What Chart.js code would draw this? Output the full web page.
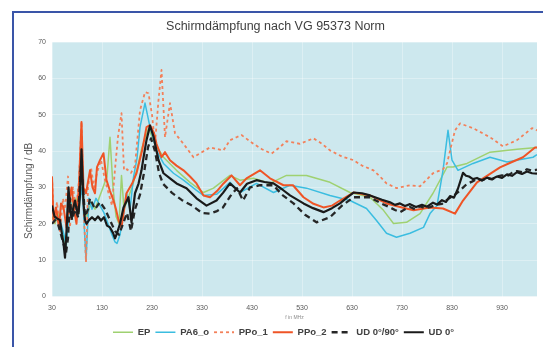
<!DOCTYPE html>
<html><head><meta charset="utf-8">
<script src="https://cdn.jsdelivr.net/npm/chart.js@4/dist/chart.umd.min.js"></script>
<style>
html,body{margin:0;padding:0;background:#fff;width:543px;height:347px;overflow:hidden}
#frame{position:absolute;left:12px;top:11px;width:560px;height:360px;border-top:2px solid #3a55a8;border-left:2px solid #3a55a8}
#wrap{position:absolute;left:0;top:0;width:543px;height:347px}
</style></head><body>
<div id="frame"></div>
<div id="wrap"><canvas id="c" width="543" height="347"></canvas></div>
<script>
// ---- data (frequency in MHz, shielding attenuation in dB) ----
const xTicks = [30,130,230,330,430,530,630,730,830,930];
const yTicks = [0,10,20,30,40,50,60,70];
const seriesNames = ['EP','PA6_o','PPo_1','PPo_2','UD 0°/90°','UD 0°'];

const epFreq = [30,36,42,48,54,58,62,66,72,78,84,90,94,100,108,116,124,132,140,146,152,158,164,169,174,182,190,200,210,223,236,253,279,306,333,353,386,406,433,466,499,539,586,626,666,693,713,739,766,792,820,832,860,906,960,1000];
const epVals = [22,20,23,19,16,13,20,28,22,27,23,38,24,22,26,24,27,30,33,43.8,30,22,20,33.3,24,27,30,35,41,46.3,42,38.3,34.7,31.4,28.6,29.8,33.3,32,32.5,31.1,33.3,33.3,31.4,28.6,27.3,23.7,20.1,20.4,22.8,28.4,35.6,35.6,36.6,39.7,40.5,41];

const paFreq = [30,36,42,48,54,58,62,66,72,78,84,88,92,98,104,110,118,126,134,142,150,156,160,166,172,179,186,193,200,206,216,226,239,253,273,293,319,333,359,386,406,439,473,506,539,586,626,659,679,699,719,746,773,786,800,812,822,830,842,872,906,940,992,1000];
const paVals = [25,21,22,20,17,14,19,27,22,26,24,30,26,10,27,24,27,25,23,20,17,15,14.6,17,22,28.4,24,32.8,38,46.6,53.2,46.6,40.2,36.6,33.9,32,29.2,27.8,28.1,31.4,28.6,31.1,28.6,30.6,29.8,27.8,26.4,24.2,20.9,17.4,16.3,17.4,19,22.8,25,34.7,45.7,37.5,34.7,36.6,38.3,37,38.3,39];

const p1Freq = [30,34,40,46,52,56,62,66,72,78,84,89,93,98,102,108,114,120,128,136,144,150,156,162,169,174,180,188,196,206,216,223,230,236,243,249,256,266,276,293,313,326,346,373,386,399,409,433,450,469,485,499,526,553,570,586,610,633,650,673,686,699,719,746,766,792,812,820,836,846,872,906,932,960,990,1000];
const p1Vals = [33,20,26,18,27,24,33,19,30,24,32,48,25,9.5,30,35.5,30,34,37.5,32,28,25,35,44,50.4,34.7,35,34,36,51.2,56.2,55.9,50,42,54,62.3,43.8,53.2,44.9,42,38.3,39.4,41,40.2,43,43.8,44.4,42,40.5,39.3,41,42.7,42,43.5,42,40.2,38.5,37.5,36,34.7,33,31.1,29.8,30.6,30.3,33.9,35,36.6,45.7,47.6,46.3,43.8,41.3,43,46.3,45.7];

const p2Freq = [30,33,38,44,48,53,59,64,69,74,79,84,89,93,98,106,111,116,120,126,133,139,146,153,158,163,169,179,190,199,210,219,226,234,239,249,256,266,279,293,306,319,333,346,360,373,389,406,419,446,466,493,512,533,553,573,590,606,633,666,699,730,753,786,812,836,852,880,926,950,972,996,1000];
const p2Vals = [33,21,24.5,19,25.6,24.5,19,26,30,24,20,31,48,30,28.4,34.7,30,28.4,35.6,37.5,39.4,32,29,26.4,24,21,19,28.4,31,33.9,40,46.6,47.1,45,42,38.3,39.7,37.5,36,34.7,33,31.1,27.8,27.3,29,31.1,33.3,30.6,32.5,34.7,32.5,30.6,30.6,27.3,25.5,24.5,25,26.4,28.6,27.8,25.6,24.5,23.7,24.5,24.2,22.8,26.4,31.4,35.5,37,38.3,41,41];

const udxFreq = [30,36,42,48,54,58,62,66,70,76,82,88,92,96,102,106,116,126,136,146,156,164,172,180,188,196,206,214,222,228,236,244,252,270,290,310,330,346,360,372,386,400,412,426,446,473,490,513,536,559,586,610,633,666,690,
  706,716,726,736,746,756,766,776,786,798,810,822,836,848,860,870,880,890,900,910,920,930,940,950,960,970,980,990,1000];
const udxVals = [20,21,20,17,14,12,16,27,21,24,22,36,30,22,24,27,24,26,24,21,18,17,20,23,18,24,28,34,41,43.5,40,34,31,28.5,26.5,25,23,22.8,23.5,24.5,27.5,29.8,26.4,30,30.6,30.6,28,25.6,22.5,20.4,21.8,25,27.3,27.3,25.5,
  24.5,23.8,23.2,24,24.6,24,24.8,24.3,24.6,25.2,25.5,26.8,28,29.4,31,31.6,32.3,32,32.5,32.2,33,33.3,33.1,34,34.5,34.2,35,34.6,34.9];

const udFreq = [30,35,40,46,50,53,56,59,63,66,69,72,76,79,83,86,89,93,96,99,104,110,116,122,128,134,140,146,152,156,160,166,173,183,189,196,203,209,214,219,226,233,243,253,266,279,299,319,339,359,372,386,406,420,439,455,473,490,506,533,552,573,590,606,620,633,650,666,690,
  706,716,726,736,746,758,770,780,792,800,810,818,826,834,842,852,858,864,872,880,890,900,910,920,930,940,950,960,970,980,990,1000];
const udVals = [25,22,21.5,21,17,14.6,10.7,18,30,24,21.8,24,26.4,24,22.8,28,40.5,25.6,21,20,21,21.8,21,22,20.9,21.8,19.5,19,17.5,16,17.4,20,24.5,27.3,20.4,28.4,31,34.7,39,43,47,44,37.5,33.9,32.5,31.1,29.8,27,25,26.4,28.5,31.1,28.6,31,32,31.5,31.1,29.5,27.8,25.6,24.3,23.2,24.3,25.6,27.2,28.6,28.4,27.8,26.6,
  25.9,25.2,25.6,24.9,25.4,24.6,25.2,24.7,25.8,25.3,26.5,26,27.6,27.2,29.7,34,33.2,33,32.3,32.6,31.9,32.7,32.3,33,32.6,33.6,33.2,34.2,33.7,34.4,33.9,33.8];

// ---- chart ----
const FONT = "'Liberation Sans', Arial, sans-serif";
const pts = (f, v) => f.map((x, i) => ({x: x, y: v[i]}));

const bgPlugin = {
  id: 'bg',
  beforeDraw(chart) {
    const a = chart.chartArea, ctx = chart.ctx;
    ctx.save(); ctx.fillStyle = '#cde8ee';
    ctx.fillRect(a.left, a.top, a.right - a.left, a.bottom - a.top);
    ctx.restore();
  }
};
const yTitlePlugin = {
  id: 'ytitle',
  afterDraw(chart) {
    const a = chart.chartArea, ctx = chart.ctx;
    ctx.save();
    ctx.translate(a.left - 23, a.top + (a.bottom - a.top) * 0.585);
    ctx.rotate(-Math.PI / 2);
    ctx.font = '10px ' + FONT; ctx.fillStyle = '#595959';
    ctx.textAlign = 'center'; ctx.textBaseline = 'middle';
    ctx.fillText('Schirmdämpfung / dB', 0, 0);
    ctx.restore();
  }
};
const legendShift = {
  id: 'legendShift',
  afterLayout(chart) { const lg = chart.legend; if (lg) { lg.left += 8; lg.right += 8; } }
};

const ds = (i, f, v, color, width, dash, order) => ({
  label: seriesNames[i], data: pts(f, v), borderColor: color, backgroundColor: color,
  borderWidth: width, borderDash: dash, pointRadius: 0, tension: 0, fill: false,
  borderJoinStyle: 'round', order: order
});

new Chart(document.getElementById('c'), {
  type: 'line',
  data: { datasets: [
    ds(0, epFreq, epVals, '#9fd171', 1.5, [], 5),
    ds(1, paFreq, paVals, '#3bbde0', 1.5, [], 4),
    ds(2, p1Freq, p1Vals, '#f3805a', 1.8, [3, 3], 3),
    ds(3, p2Freq, p2Vals, '#ef5426', 2, [], 2),
    ds(4, udxFreq, udxVals, '#262626', 2.3, [6, 4], 1),
    ds(5, udFreq, udVals, '#1a1a1a', 2.2, [], 0)
  ]},
  options: {
    responsive: false, animation: false, devicePixelRatio: 1,
    layout: { padding: { left: 14, right: 6, top: 0, bottom: 0 } },
    plugins: {
      title: { display: true, text: 'Schirmdämpfung nach VG 95373 Norm', color: '#404040',
        font: { family: FONT, size: 12.5, weight: 'normal' }, padding: { top: 19, bottom: 8 } },
      legend: { position: 'bottom',
        labels: { usePointStyle: true, pointStyle: 'line', pointStyleWidth: 20, padding: 5,
          color: '#404040', font: { family: FONT, size: 9.5, weight: 'bold' },
          sort: (a, b) => a.datasetIndex - b.datasetIndex,
          generateLabels: chart => {
            const items = Chart.defaults.plugins.legend.labels.generateLabels(chart);
            items.forEach(it => {
              const d = chart.data.datasets[it.datasetIndex];
              it.lineDash = d.borderDash; it.lineWidth = d.borderWidth;
              it.strokeStyle = d.borderColor; it.fillStyle = d.borderColor; it.pointStyle = 'line';
            });
            return items;
          } } },
      tooltip: { enabled: false }
    },
    scales: {
      x: { type: 'linear', min: 30, max: 1000,
        afterBuildTicks: s => { s.ticks = xTicks.map(v => ({ value: v })); },
        afterFit: s => { s.height = 26; },
        grid: { color: 'rgba(255,255,255,0.32)', drawTicks: false },
        border: { display: false },
        ticks: { font: { family: FONT, size: 7 }, color: '#595959', padding: 7, maxRotation: 0, autoSkip: false },
        title: { display: true, text: 'f in MHz', color: '#8a8a8a', font: { family: FONT, size: 5 }, padding: { top: 1, bottom: 2 } }
      },
      y: { min: 0, max: 70,
        afterBuildTicks: s => { s.ticks = yTicks.map(v => ({ value: v })); },
        afterFit: s => { s.width = 38; },
        grid: { color: 'rgba(255,255,255,0.32)', drawTicks: false },
        border: { display: false },
        ticks: { font: { family: FONT, size: 7 }, color: '#595959', padding: 6 }
      }
    }
  },
  plugins: [bgPlugin, yTitlePlugin, legendShift]
});
</script>
</body></html>
